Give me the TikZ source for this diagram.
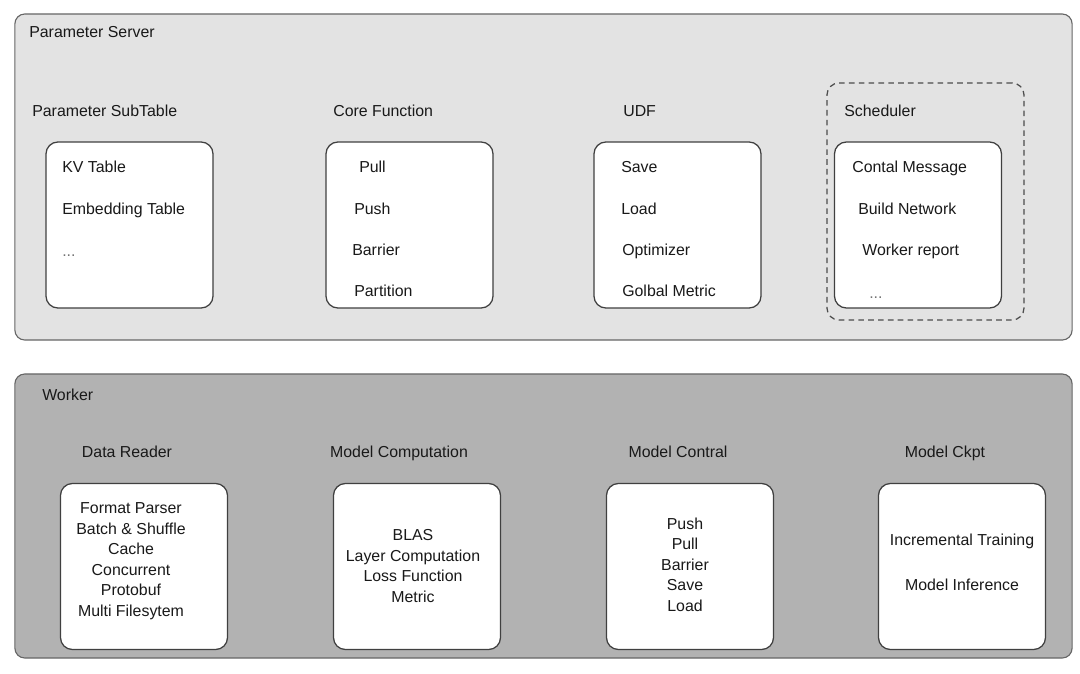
\documentclass[tikz,border=0pt]{standalone}
\usepackage{fontspec}
\setmainfont{Liberation Sans}

\begin{document}
\begin{tikzpicture}[x=0.025cm, y=-0.025cm,
    outer/.style={draw=black!60, line width=0.8pt, rounded corners=0.25cm, inner sep=0pt},
    panel/.style={draw=black!75, fill=white, line width=0.9pt, rounded corners=0.3cm,
                  minimum width=4.175cm, minimum height=4.15cm, inner sep=0pt},
    dashbox/.style={draw=black!70, line width=0.9pt, dash pattern=on 4pt off 3pt,
                    rounded corners=0.3cm, minimum width=4.925cm, minimum height=5.925cm, inner sep=0pt},
    lbl/.style={font=\fontsize{11.3}{13}\selectfont, text=black!90, inner sep=0pt,
                text height=0.95em, text depth=0.25em},
    item/.style={lbl, anchor=west},
    lines/.style={font=\fontsize{11.3}{14.6}\selectfont, text=black!90, align=center, inner sep=0pt}]

	\useasboundingbox (0,0) rectangle (1080,673);

	% parameter server
	\node[outer, fill=black!11, minimum width=26.425cm, minimum height=8.15cm] (ps) at (543.5,177) {};
	\node[item] (ps-title) at (29,32.5) {Parameter Server};

	\node[item] (subtable) at (32,111.5) {Parameter SubTable};
	\node[item] (corefn)   at (333,111.5) {Core Function};
	\node[item] (udf)      at (623,111.5) {UDF};
	\node[dashbox] (sched-area) at (925.5,201.5) {};
	\node[item] (sched)    at (844,111.5) {Scheduler};

	\node[panel] (subtable-box) at (129.5,225) {};
	\node[panel] (corefn-box)   at (409.5,225) {};
	\node[panel] (udf-box)      at (677.5,225) {};
	\node[panel] (sched-box)    at (918,225) {};

	\foreach \x/\y/\txt [count=\i] in {62/167.5/KV Table, 62/209.5/Embedding Table,
	    359/167.5/Pull, 354/209.5/Push, 352/250.5/Barrier, 354/291.5/Partition,
	    621/167.5/Save, 621/209.5/Load, 622/250.5/Optimizer, 622/291.5/Golbal Metric,
	    852/167.5/Contal Message, 858/209.5/Build Network, 862/250.5/Worker report}
	  \node[item] (ps-item-\i) at (\x,\y) {\txt};
	\node[item, text=black!55] (subtable-more) at (62,252) {...};
	\node[item, text=black!55] (sched-more)    at (869,294) {...};

	% worker
	\node[outer, fill=black!30, minimum width=26.425cm, minimum height=7.1cm] (worker) at (543.5,516) {};
	\node[item] (worker-title) at (42,395.5) {Worker};

	\node[lbl] (reader)  at (127,452.5) {Data Reader};
	\node[lbl] (compute) at (399,452.5) {Model Computation};
	\node[lbl] (control) at (678,452.5) {Model Contral};
	\node[lbl] (ckpt)    at (945,452.5) {Model Ckpt};

	\node[panel] (reader-box)  at (144,566.5) {};
	\node[panel] (compute-box) at (417,566.5) {};
	\node[panel] (control-box) at (690,566.5) {};
	\node[panel] (ckpt-box)    at (962,566.5) {};

	\node[lines] (reader-text) at (131,561)
	  {Format Parser\\Batch \& Shuffle\\Cache\\Concurrent\\Protobuf\\Multi Filesytem};
	\node[lines] (compute-text) at (413,566)
	  {BLAS\\Layer Computation\\Loss Function\\Metric};
	\node[lines] (control-text) at (685,564.5)
	  {Push\\Pull\\Barrier\\Save\\Load};
	\node[lbl] (ckpt-train) at (962,540.5) {Incremental Training};
	\node[lbl] (ckpt-infer) at (962,585.5) {Model Inference};

\end{tikzpicture}
\end{document}
